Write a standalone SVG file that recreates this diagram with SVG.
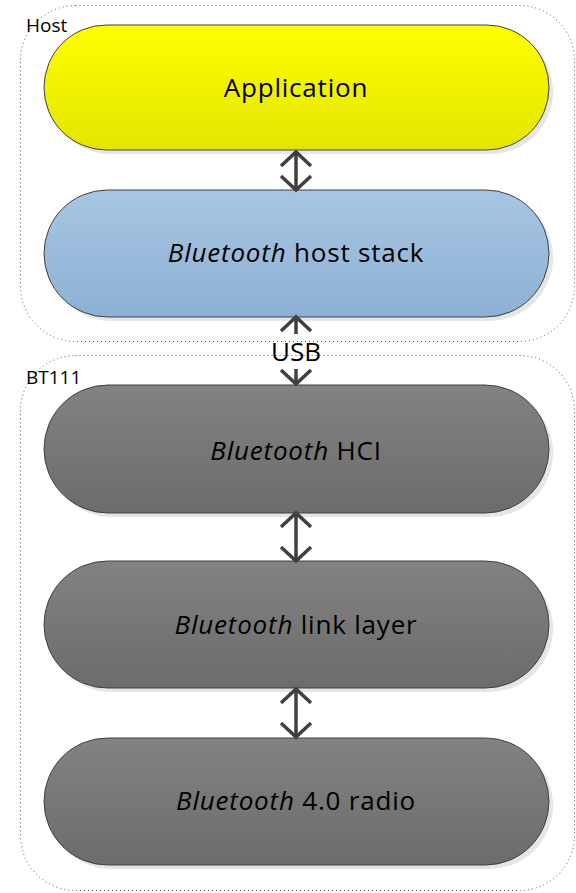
<svg xmlns="http://www.w3.org/2000/svg" width="576" height="893" viewBox="0 0 576 893">
<style>
.cont{fill:none;stroke:#555;stroke-width:1;stroke-dasharray:1 3}
.lbl{font-family:"Open Sans","Liberation Sans",sans-serif;font-size:19px;fill:#000}
.node{stroke:#404040;stroke-width:1}
.shadow{fill:#e6e6e6}
.t{font-family:"Open Sans","Liberation Sans",sans-serif;font-size:26px;letter-spacing:0.8px;fill:#000;text-anchor:middle}
.arr{fill:none;stroke:#404040;stroke-width:3.5}
</style>
<defs>
<linearGradient id="gy" x1="0" y1="0" x2="0" y2="1"><stop offset="0" stop-color="#ffff00"/><stop offset="1" stop-color="#e4e400"/></linearGradient>
<linearGradient id="gb" x1="0" y1="0" x2="0" y2="1"><stop offset="0" stop-color="#a8c6e2"/><stop offset="1" stop-color="#8cb0d5"/></linearGradient>
<linearGradient id="gg" x1="0" y1="0" x2="0" y2="1"><stop offset="0" stop-color="#828282"/><stop offset="1" stop-color="#6c6c6c"/></linearGradient>
</defs>
<g id="host">
<rect class="cont" x="20.5" y="5.5" width="554" height="336" rx="55"/>
<text class="lbl" x="26" y="32">Host</text>
</g>
<g id="bt111">
<rect class="cont" x="20.5" y="355.5" width="554" height="535" rx="55"/>
<text class="lbl" x="26" y="384">BT111</text>
</g>
<g id="application">
<rect class="shadow" x="48" y="29" width="505" height="125" rx="62.5"/>
<rect class="node" x="44" y="25" width="505" height="125" rx="62.5" fill="url(#gy)"/>
<text class="t" x="296" y="97">Application</text>
</g>
<g id="hoststack">
<rect class="shadow" x="48" y="194" width="505" height="127" rx="63.5"/>
<rect class="node" x="44" y="190" width="505" height="127" rx="63.5" fill="url(#gb)"/>
<text class="t" x="296" y="262"><tspan font-style="italic">Bluetooth</tspan> host stack</text>
</g>
<g id="hci">
<rect class="shadow" x="48" y="389" width="505" height="128" rx="64"/>
<rect class="node" x="44" y="385" width="505" height="128" rx="64" fill="url(#gg)"/>
<text class="t" x="296" y="460"><tspan font-style="italic">Bluetooth</tspan> HCI</text>
</g>
<g id="linklayer">
<rect class="shadow" x="48" y="565" width="505" height="127" rx="63.5"/>
<rect class="node" x="44" y="561" width="505" height="127" rx="63.5" fill="url(#gg)"/>
<text class="t" x="296" y="634"><tspan font-style="italic">Bluetooth</tspan> link layer</text>
</g>
<g id="radio">
<rect class="shadow" x="48" y="742" width="505" height="127" rx="63.5"/>
<rect class="node" x="44" y="738" width="505" height="127" rx="63.5" fill="url(#gg)"/>
<text class="t" x="296" y="810"><tspan font-style="italic">Bluetooth</tspan> 4.0 radio</text>
</g>
<g id="connectors">
<path class="arr" d="M296 152V189M281 166L296 152L311 166M281 176L296 190L311 176"/>
<path class="arr" d="M296 317V334M281 331L296 317L311 331"/>
<path class="arr" d="M296 369V384M281 370L296 384L311 370"/>
<text class="t" x="296" y="361" style="letter-spacing:0">USB</text>
<path class="arr" d="M296 513V560M281 527L296 513L311 527M281 547L296 561L311 547"/>
<path class="arr" d="M296 689V737M281 703L296 689L311 703M281 723L296 737L311 723"/>
</g>
</svg>
